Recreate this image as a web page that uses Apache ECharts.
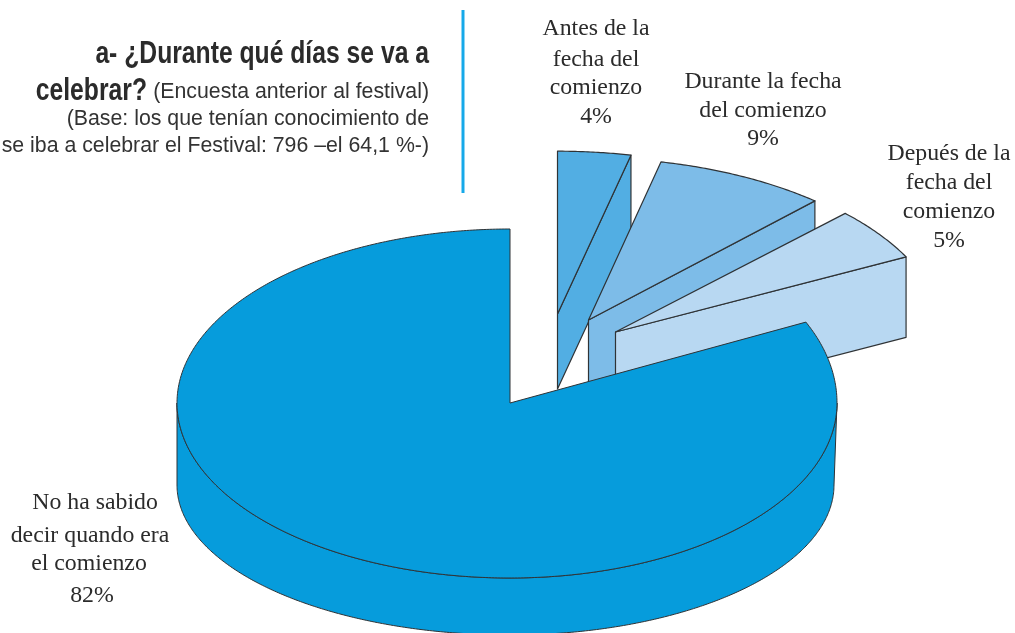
<!DOCTYPE html>
<html>
<head>
<meta charset="utf-8">
<style>html,body{margin:0;padding:0;background:#fff}#c{width:1015px;height:633px}</style>
<script src="https://cdn.jsdelivr.net/npm/echarts@6/dist/echarts.min.js"></script>
</head>
<body>
<div id="c"></div>
<script>
// Data, clockwise from 12 o'clock
const categories = ['Antes de la fecha del comienzo', 'Durante la fecha del comienzo', 'Depués de la fecha del comienzo', 'No ha sabido decir quando era el comienzo'];
const values = [4, 9, 5, 82];
const labelLines = [
  ['Antes de la', 'fecha del', 'comienzo', '4%'],
  ['Durante la fecha', 'del comienzo', '9%'],
  ['Depués de la', 'fecha del', 'comienzo', '5%'],
  ['No ha sabido', 'decir quando era', 'el comienzo', '82%']
];
const titleBold = ['a- ¿Durante qué días se va a', 'celebrar?'];
const titleRegular = ['(Encuesta anterior al festival)', '(Base: los que tenían conocimiento de', 'se iba a celebrar el Festival: 796 –el 64,1 %-)'];

// Presentation
const colors = ['#52aee3', '#7dbce8', '#b8d8f2', '#069cdc'];
const stroke = '#2f3336';
const wedgeLayout = [
  { cx: 557.5, cy: 314, rx: 362, ry: 201, k: 0.19, depth: 75 },
  { cx: 588.5, cy: 320, rx: 357, ry: 200, k: 0.19, depth: 78 },
  { cx: 615.5, cy: 332, rx: 331, ry: 182, k: 0.07, depth: 80.5 }
];
const mainTop = { cx: 510, cy: 403, rxR: 327, rxL: 333, ryUR: 190, ryUL: 174, ryLow: 175 };
const mainBase = { cx: 510, cy: 485, rxR: 324, rxL: 333, ryUR: 150, ryUL: 150, ryLow: 150 };
const labelX = [[596, 596, 596, 596], [763, 763, 763], [949, 949, 949, 949], [95, 90, 89, 92]];
const labelY = [[29, 60, 88, 117], [82, 111, 139], [154, 183, 212, 241], [503, 536, 564, 596]];
const labelFont = '23.8px "Liberation Serif", serif';

const rad = d => d * Math.PI / 180;
function wedgePoint(l, t) {
  const s = Math.sin(rad(t)), c = Math.cos(rad(t)), p = 1 - l.k * c;
  return [l.cx + l.rx * s * p, l.cy - l.ry * c * p];
}
function pieEdge(l, t) {
  const s = Math.sin(rad(t)), c = Math.cos(rad(t));
  const rx = s >= 0 ? l.rxR : l.rxL;
  const ry = c < 0 ? l.ryLow : (s >= 0 ? l.ryUR : l.ryUL);
  return [l.cx + rx * s, l.cy - ry * c];
}
function sample(fn, l, a, b) {
  const pts = [], n = Math.max(6, Math.ceil(Math.abs(b - a) * 2));
  for (let i = 0; i <= n; i++) pts.push(fn(l, a + (b - a) * i / n));
  return pts;
}
const total = values.reduce((x, y) => x + y, 0);
function poly(points, fill, lineWidth) {
  return { type: 'polygon', shape: { points }, style: { fill, stroke, lineWidth, lineJoin: 'round' } };
}
function renderItem(params, api) {
  const i = params.dataIndex;
  let before = 0;
  for (let j = 0; j < i; j++) before += values[j];
  const a = before / total * 360;
  const b = a + api.value(0) / total * 360;
  const fill = colors[i];
  const children = [];
  if (i < wedgeLayout.length) {
    const l = wedgeLayout[i];
    const end = wedgePoint(l, b), apex = [l.cx, l.cy];
    children.push(poly([apex, end, [end[0], end[1] + l.depth], [apex[0], apex[1] + l.depth]], fill, 1.2));
    children.push(poly([apex].concat(sample(wedgePoint, l, a, b)), fill, 1.2));
  } else {
    const topArc = sample(pieEdge, mainTop, 90, 270);
    const baseArc = sample(pieEdge, mainBase, 270, 90);
    children.push(poly(topArc.concat(baseArc), fill, 1));
    children.push(poly([[mainTop.cx, mainTop.cy]].concat(sample(pieEdge, mainTop, a, b)), fill, 1));
  }
  return { type: 'group', children };
}

const textEls = [];
labelLines.forEach((lines, i) => lines.forEach((t, j) => textEls.push({
  type: 'text', silent: true, x: labelX[i][j], y: labelY[i][j],
  style: { text: t, font: labelFont, fill: '#2b2b2b', align: 'center', verticalAlign: 'middle' }
})));
const titleRight = 429;
const boldY = [55, 92], regY = [92, 119, 146];
titleBold.forEach((t, i) => textEls.push({
  type: 'text', silent: true, x: i === 0 ? titleRight : 147, y: boldY[i], scaleX: 0.805,
  style: { text: t, font: 'bold 30.7px "Liberation Sans", sans-serif', fill: '#2b2b2b', align: 'right', verticalAlign: 'middle' }
}));
titleRegular.forEach((t, i) => textEls.push({
  type: 'text', silent: true, x: titleRight, y: regY[i],
  style: { text: t, font: '21.3px "Liberation Sans", sans-serif', fill: '#333', align: 'right', verticalAlign: 'middle' }
}));
textEls.push({ type: 'line', silent: true, shape: { x1: 463, y1: 10, x2: 463, y2: 193 }, style: { stroke: '#16a9e9', lineWidth: 3 } });

const chart = echarts.init(document.getElementById('c'));
chart.setOption({
  animation: false,
  backgroundColor: '#fff',
  tooltip: { show: false },
  graphic: { elements: textEls },
  series: [{
    type: 'custom',
    coordinateSystem: 'none',
    renderItem,
    clip: false,
    encode: { value: 0 },
    data: values.map((v, i) => ({ name: categories[i], value: [v] }))
  }]
});
</script>
</body>
</html>
